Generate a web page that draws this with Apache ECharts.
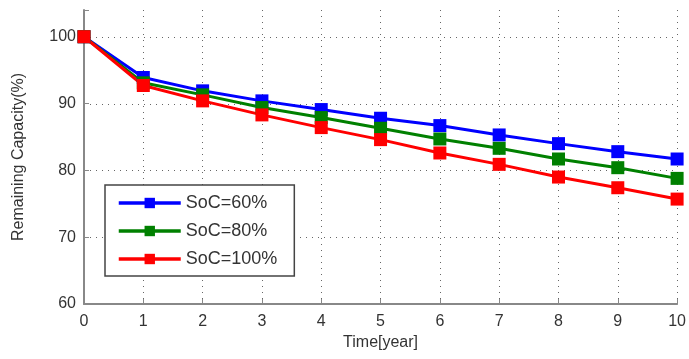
<!DOCTYPE html>
<html>
<head>
<meta charset="utf-8">
<script src="https://cdn.jsdelivr.net/npm/echarts@6/dist/echarts.min.js"></script>
<style>
html,body{margin:0;padding:0;background:#fff;}
#main{width:689px;height:359px;}
</style>
</head>
<body>
<div id="main"></div>
<script>
// years on the x axis
var years = [0, 1, 2, 3, 4, 5, 6, 7, 8, 9, 10];
var soc60 = [100, 93.9, 91.9, 90.4, 89.1, 87.8, 86.7, 85.3, 84.0, 82.8, 81.7];
var soc80 = [100, 93.1, 91.3, 89.4, 87.9, 86.3, 84.7, 83.3, 81.7, 80.4, 78.8];
var soc100 = [100, 92.7, 90.4, 88.3, 86.4, 84.6, 82.6, 80.9, 79.0, 77.4, 75.7];
var seriesNames = ['SoC=60%', 'SoC=80%', 'SoC=100%'];
var colors = ['#0000ff', '#008000', '#ff0000'];

var chart = echarts.init(document.getElementById('main'));

function pairs(vals) {
	var out = [];
	for (var i = 0; i < years.length; i++) {
		out.push([years[i], vals[i]]);
	}
	return out;
}

function makeSeries(name, vals, color) {
	return {
		name: name,
		type: 'line',
		data: pairs(vals),
		symbol: 'rect',
		symbolSize: 13,
		showAllSymbol: true,
		lineStyle: { color: color, width: 3 },
		itemStyle: { color: color },
		emphasis: { disabled: true }
	};
}

var dotted = { color: '#666', width: 1, type: [1, 5] };
var font = 'Liberation Sans, Arial';

var option = {
	animation: false,
	color: colors,
	// grid 0 holds the data, grid 1 only draws the horizontal dotted lines 60..100
	grid: [
		{ left: 84, right: 11, top: 10, bottom: 55 },
		{ left: 84, right: 11, top: 37, bottom: 55 }
	],
	legend: {
		orient: 'vertical',
		left: 105,
		top: 185,
		padding: [9, 17, 8, 12],
		itemGap: 10,
		itemWidth: 62,
		itemHeight: 13,
		backgroundColor: '#fff',
		borderColor: '#444',
		borderWidth: 1.5,
		borderRadius: 0,
		lineStyle: { width: 3.5 },
		textStyle: { fontFamily: font, fontSize: 18, color: '#333' },
		data: seriesNames
	},
	xAxis: [{
		type: 'value',
		gridIndex: 0,
		min: 0,
		max: 10,
		interval: 1,
		name: 'Time[year]',
		nameLocation: 'middle',
		nameGap: 31,
		nameTextStyle: { fontFamily: font, fontSize: 16, color: '#333' },
		axisLine: { lineStyle: { color: '#888', width: 2 } },
		axisTick: { inside: true, length: 5, lineStyle: { color: '#888' } },
		axisLabel: { fontFamily: font, fontSize: 16, color: '#333', margin: 10 },
		splitLine: { show: true, showMinLine: false, lineStyle: dotted },
		z: 1
	}, {
		type: 'value',
		gridIndex: 1,
		min: 0,
		max: 10,
		show: false
	}],
	yAxis: [{
		type: 'value',
		gridIndex: 0,
		min: 60,
		max: 104,
		interval: 10,
		name: 'Remaining Capacity(%)',
		nameLocation: 'middle',
		nameGap: 57,
		nameTextStyle: { fontFamily: font, fontSize: 16, color: '#333' },
		axisLine: { show: true, lineStyle: { color: '#888', width: 2 } },
		axisTick: { show: true, inside: true, length: 5, lineStyle: { color: '#888' } },
		axisLabel: {
			fontFamily: font, fontSize: 16, color: '#333', margin: 8,
			formatter: function (v) { return v > 100 ? '' : v; }
		},
		splitLine: { show: false },
		z: 1
	}, {
		type: 'value',
		gridIndex: 1,
		min: 60,
		max: 100,
		interval: 10,
		axisLine: { show: false },
		axisTick: { show: false },
		axisLabel: { show: false },
		splitLine: { show: true, showMinLine: false, lineStyle: dotted }
	}],
	series: [
		makeSeries(seriesNames[0], soc60, colors[0]),
		makeSeries(seriesNames[1], soc80, colors[1]),
		makeSeries(seriesNames[2], soc100, colors[2])
	]
};

chart.setOption(option);
</script>
</body>
</html>
